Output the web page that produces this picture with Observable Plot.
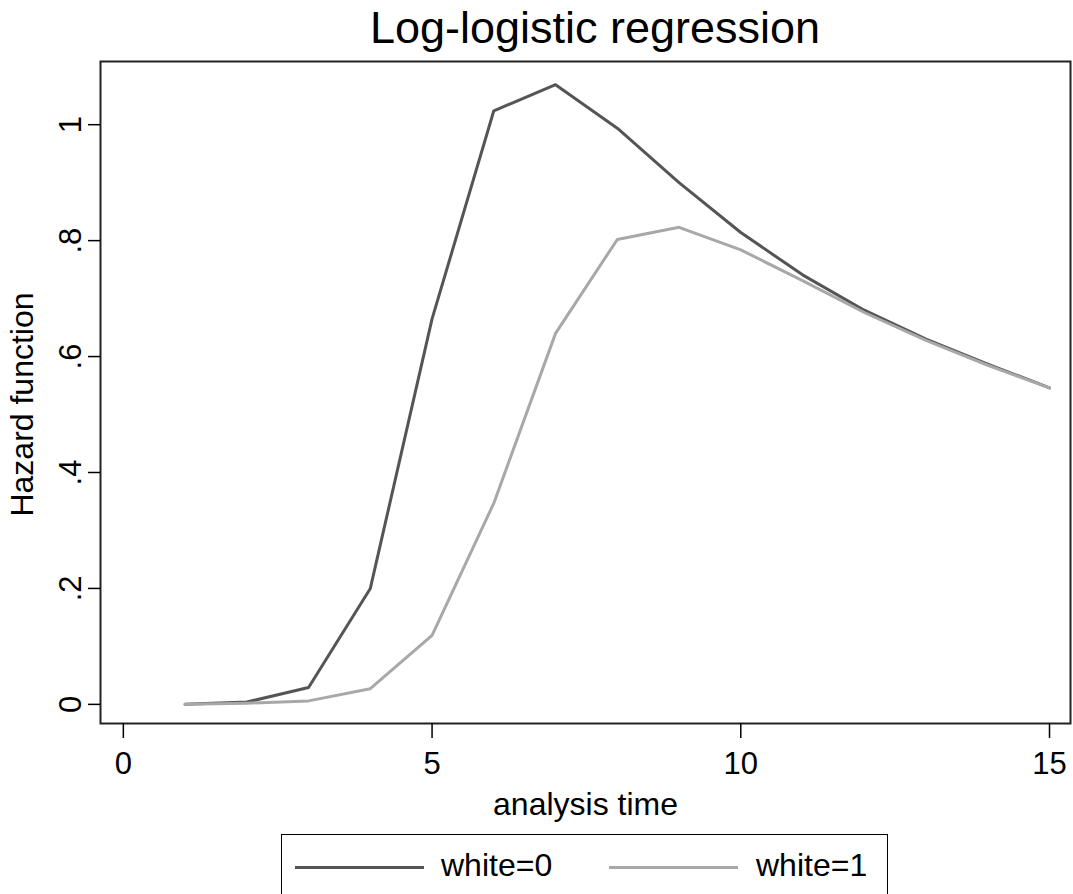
<!DOCTYPE html>
<html><head><meta charset="utf-8">
<script src="https://cdn.jsdelivr.net/npm/d3@7"></script>
<script src="https://cdn.jsdelivr.net/npm/@observablehq/plot@0.6"></script>
<style>
body{margin:0;background:#fff;font-family:"Liberation Sans",Arial,sans-serif;}
#wrap{position:relative;width:1073px;height:894px;overflow:hidden;background:#fff;}
#title{position:absolute;left:110px;width:970px;top:0;height:55px;line-height:55px;text-align:center;font-size:45px;color:#000;white-space:nowrap;}
#chart{position:absolute;left:0;top:55px;}
#legend{position:absolute;left:281px;top:834px;width:607px;height:90px;border:1.5px solid #000;box-sizing:border-box;background:#fff;}
.sw{position:absolute;top:30.5px;height:3px;width:129px;}
.lb{position:absolute;top:12px;font-size:32px;line-height:36px;color:#000;white-space:nowrap;}
</style></head><body>
<div id="wrap"><div id="title"></div><div id="chart"></div><div id="legend"></div></div>
<script>
const titleText = "Log-logistic regression";
const xLabel = "analysis time";
const yLabel = "Hazard function";
const time = [1, 2, 3, 4, 5, 6, 7, 8, 9, 10, 11, 12, 13, 14, 15];
const white0 = [0.000, 0.004, 0.029, 0.200, 0.665, 1.024, 1.069, 0.994, 0.900, 0.814, 0.741, 0.680, 0.630, 0.587, 0.546];
const white1 = [0.000, 0.002, 0.006, 0.027, 0.119, 0.347, 0.640, 0.802, 0.823, 0.784, 0.731, 0.676, 0.628, 0.585, 0.546];
const seriesNames = ["white=0", "white=1"];
const seriesColors = ["#555555", "#a8a8a8"];
const xTicks = [0, 5, 10, 15];
const yTicks = [0, 0.2, 0.4, 0.6, 0.8, 1];

const seriesValues = [white0, white1];
const rows = [];
seriesValues.forEach((vals, i) => time.forEach((t, j) => rows.push({t, h: vals[j], s: seriesNames[i]})));

document.getElementById("title").textContent = titleText;

const yFmt = d => d === 0 ? "0" : d === 1 ? "1" : d.toFixed(1).replace(/^0/, "");

const chart = Plot.plot({
  width: 1073,
  height: 775,
  marginTop: 6,
  marginLeft: 100,
  marginRight: 3,
  marginBottom: 107,
  style: {fontFamily: "Liberation Sans, Arial, sans-serif", fontSize: "31px", color: "#000", background: "#fff", overflow: "visible"},
  x: {domain: [-0.37, 15.34]},
  y: {domain: [-0.033, 1.109]},
  color: {domain: seriesNames, range: seriesColors},
  marks: [
    Plot.frame({stroke: "#222", strokeWidth: 2}),
    Plot.axisX({ticks: xTicks, tickSize: 15, tickPadding: 13, strokeWidth: 1.5, fontSize: 31, tickFormat: d => String(d),
      label: null}),
    Plot.axisX({ticks: [], tickSize: 0, fontSize: 32, label: xLabel, labelAnchor: "center", labelOffset: 91, labelArrow: "none"}),
    Plot.axisY({ticks: yTicks, tickSize: 12, tickPadding: 8, tickRotate: -90, strokeWidth: 1.5, fontSize: 31, tickFormat: yFmt,
      label: null}),
    Plot.text([yLabel], {frameAnchor: "left", text: d => d, rotate: -90, textAnchor: "middle", lineAnchor: "top",
      dx: -90, dy: 12, fontSize: 32, fill: "#000"}),
    Plot.line(rows, {x: "t", y: "h", stroke: "s", strokeWidth: 3, z: "s"})
  ]
});
document.getElementById("chart").appendChild(chart);

const legend = document.getElementById("legend");
const swLeft = [13, 327];
const lbLeft = [159, 474];
seriesNames.forEach((name, i) => {
  const sw = document.createElement("div");
  sw.className = "sw";
  sw.style.left = swLeft[i] + "px";
  sw.style.background = seriesColors[i];
  legend.appendChild(sw);
  const lb = document.createElement("div");
  lb.className = "lb";
  lb.style.left = lbLeft[i] + "px";
  lb.textContent = name;
  legend.appendChild(lb);
});
</script>
</body></html>
